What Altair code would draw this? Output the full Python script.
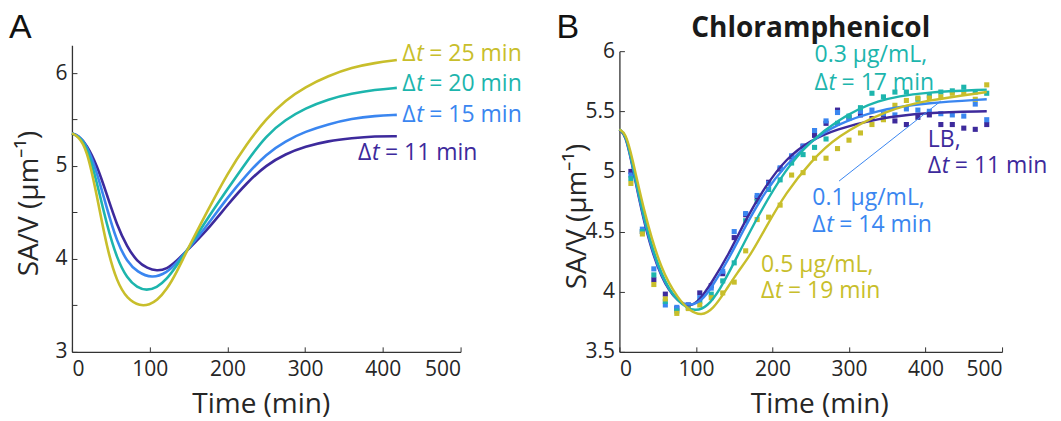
import altair as alt
import pandas as pd

FONT = "Open Sans"
TXT = "#262626"

# ---------------- Panel A : model curves ----------------
A_series = ["Δt = 11 min", "Δt = 15 min", "Δt = 20 min", "Δt = 25 min"]
A_t_11 = [0, 8, 19, 32, 45, 58, 71, 84, 97, 109, 122, 135, 148, 174, 200, 225, 250, 275, 300, 330, 360, 390, 418]
A_v_11 = [5.35, 5.33, 5.23, 5.01, 4.69, 4.36, 4.13, 3.97, 3.90, 3.87, 3.89, 3.98, 4.09, 4.31, 4.58, 4.82, 5.01, 5.13, 5.21, 5.27, 5.30, 5.32, 5.32]
A_t_15 = [0, 8, 19, 32, 45, 58, 71, 84, 103, 122, 135, 148, 174, 200, 225, 250, 275, 300, 330, 360, 390, 418]
A_v_15 = [5.35, 5.33, 5.23, 4.94, 4.54, 4.18, 3.97, 3.86, 3.79, 3.85, 3.96, 4.09, 4.36, 4.66, 4.91, 5.13, 5.27, 5.37, 5.45, 5.51, 5.54, 5.55]
A_t_20 = [0, 8, 19, 32, 45, 58, 71, 84, 96, 109, 122, 135, 148, 174, 200, 225, 250, 275, 300, 330, 360, 390, 418]
A_v_20 = [5.35, 5.32, 5.22, 4.83, 4.36, 4.00, 3.79, 3.69, 3.66, 3.69, 3.78, 3.93, 4.09, 4.43, 4.75, 5.05, 5.33, 5.50, 5.62, 5.72, 5.78, 5.82, 5.84]
A_t_25 = [0, 8, 19, 32, 45, 58, 71, 88, 100, 109, 122, 135, 148, 174, 200, 225, 250, 275, 300, 330, 360, 390, 418]
A_v_25 = [5.35, 5.32, 5.19, 4.69, 4.11, 3.75, 3.57, 3.49, 3.51, 3.55, 3.67, 3.86, 4.09, 4.51, 4.92, 5.24, 5.51, 5.71, 5.85, 5.97, 6.06, 6.11, 6.14]

# labels of panel A (data coordinates)
A_lab_x = [368, 425, 425, 425]
A_lab_y = [5.14, 5.55, 5.88, 6.21]
A_lab_rest = ["= 11 min", "= 15 min", "= 20 min", "= 25 min"]

# ---------------- Panel B : Chloramphenicol ----------------
B_series = ["LB", "0.1 μg/mL", "0.3 μg/mL", "0.5 μg/mL"]
B_fit_t_LB = [0, 8, 16, 33, 55, 77, 92, 105, 120, 142, 165, 190, 218, 250, 283, 336, 400, 480]
B_fit_v_LB = [5.35, 5.30, 5.08, 4.53, 4.09, 3.91, 3.87, 3.93, 4.07, 4.30, 4.60, 4.87, 5.11, 5.26, 5.35, 5.44, 5.49, 5.50]
B_fit_t_01 = [0, 8, 16, 33, 55, 77, 94, 108, 120, 142, 165, 190, 218, 250, 283, 336, 400, 480]
B_fit_v_01 = [5.35, 5.31, 5.09, 4.55, 4.10, 3.91, 3.88, 3.93, 4.03, 4.26, 4.55, 4.83, 5.06, 5.25, 5.39, 5.51, 5.57, 5.60]
B_fit_t_03 = [0, 8, 16, 33, 55, 77, 100, 115, 130, 153, 180, 218, 250, 283, 336, 400, 480]
B_fit_v_03 = [5.35, 5.31, 5.10, 4.57, 4.12, 3.90, 3.83, 3.88, 4.00, 4.28, 4.62, 5.03, 5.25, 5.42, 5.60, 5.66, 5.68]
B_fit_t_05 = [0, 8, 16, 33, 55, 77, 92, 107, 122, 140, 153, 172, 190, 218, 250, 283, 349, 400, 480]
B_fit_v_05 = [5.35, 5.32, 5.14, 4.64, 4.17, 3.94, 3.84, 3.80, 3.85, 4.02, 4.15, 4.31, 4.52, 4.83, 5.08, 5.29, 5.51, 5.59, 5.66]

B_pts_t = [15, 30, 45, 60, 75, 90, 105, 120, 135, 150, 165, 180, 195, 210, 225, 240,
           255, 270, 285, 300, 315, 330, 345, 360, 375, 390, 405, 420, 435, 450, 465, 480]
B_pts_LB = [5.00, 4.50, 4.10, 3.98, 3.86, 3.89, 3.99, 4.05, 4.15, 4.45, 4.64, 4.78, 4.91, 5.02, 5.12, 5.21,
            5.30, 5.40, 5.51, 5.45, 5.47, 5.44, 5.44, 5.42, 5.39, 5.45, 5.47, 5.39, 5.39, 5.36, 5.35, 5.39]
B_pts_01 = [4.97, 4.52, 4.19, 3.89, 3.87, 3.89, 3.95, 4.03, 4.17, 4.50, 4.65, 4.80, 4.90, 5.03, 5.13, 5.21,
            5.34, 5.42, 5.49, 5.44, 5.50, 5.51, 5.48, 5.47, 5.52, 5.51, 5.50, 5.48, 5.47, 5.46, 5.56, 5.43]
B_pts_03 = [4.94, 4.50, 4.14, 3.92, 3.84, 3.87, 3.92, 3.98, 4.09, 4.24, 4.59, 4.75, 4.85, 4.93, 5.07, 5.14,
            5.20, 5.27, 5.40, 5.46, 5.53, 5.65, 5.62, 5.66, 5.66, 5.60, 5.63, 5.66, 5.67, 5.70, 5.66, 5.65]
B_pts_05 = [4.90, 4.48, 4.06, 3.94, 3.82, 3.86, 3.89, 3.95, 3.99, 4.08, 4.34, 4.60, 4.62, 4.72, 4.97, 4.99,
            5.11, 5.11, 5.19, 5.26, 5.32, 5.39, 5.43, 5.55, 5.59, 5.61, 5.61, 5.62, 5.65, 5.65, 5.60, 5.72]

# labels of panel B
B_lab_series = ["0.3 μg/mL", "0.3 μg/mL", "LB", "LB", "0.1 μg/mL", "0.1 μg/mL", "0.5 μg/mL", "0.5 μg/mL"]
B_lab_x = [255, 255, 403, 403, 252, 252, 185, 185]
B_lab_y = [5.967, 5.734, 5.26, 5.045, 4.78, 4.555, 4.22, 4.007]
B_lab_text = ["0.3 μg/mL,", "= 17 min", "LB,", "= 11 min", "0.1 μg/mL,", "= 14 min", "0.5 μg/mL,", "= 19 min"]
B_lab_delta = [False, True, False, True, False, True, False, True]

# leader line for 0.1 µg/mL label
B_lead = {"x": [287], "y": [4.92], "x2": [420], "y2": [5.585]}

COLORS = ["#3d2a9c", "#3a86f0", "#1db5ad", "#c8be2b"]

A_ticks_x = [0, 100, 200, 300, 400, 500]
A_ticks_y = [3, 3.5, 4, 4.5, 5, 5.5, 6]
A_labels_y = [3, 4, 5, 6]
B_ticks_x = [0, 100, 200, 300, 400, 500]
B_ticks_y = [3.5, 4, 4.5, 5, 5.5, 6]

W_A, W_B, H = 389, 383, 307

# ---------------- build tables ----------------
rows = []
for s, ts, vs in zip(A_series, [A_t_11, A_t_15, A_t_20, A_t_25], [A_v_11, A_v_15, A_v_20, A_v_25]):
    for t, v in zip(ts, vs):
        rows.append({"t": t, "v": v, "s": s})
dfA = pd.DataFrame(rows)
dfA_lab = pd.DataFrame({"t": A_lab_x, "v": A_lab_y, "s": A_series, "rest": A_lab_rest})

rows = []
for s, ts, vs in zip(B_series, [B_fit_t_LB, B_fit_t_01, B_fit_t_03, B_fit_t_05],
                     [B_fit_v_LB, B_fit_v_01, B_fit_v_03, B_fit_v_05]):
    for t, v in zip(ts, vs):
        rows.append({"t": t, "v": v, "s": s})
dfB = pd.DataFrame(rows)
rows = []
for s, vs in zip(B_series, [B_pts_LB, B_pts_01, B_pts_03, B_pts_05]):
    for t, v in zip(B_pts_t, vs):
        rows.append({"t": t, "v": v, "s": s})
dfBp = pd.DataFrame(rows)
dfB_lab = pd.DataFrame({"t": B_lab_x, "v": B_lab_y, "s": B_lab_series, "txt": B_lab_text, "d": B_lab_delta})
dfB_lead = pd.DataFrame(B_lead)

colA = alt.Color("s:N", scale=alt.Scale(domain=A_series, range=COLORS), legend=None)
colB = alt.Color("s:N", scale=alt.Scale(domain=B_series, range=COLORS), legend=None)

scxA = alt.Scale(domain=[0, 500], nice=False)
scyA = alt.Scale(domain=[3, 6.3], nice=False, zero=False)
scxB = alt.Scale(domain=[0, 500], nice=False)
scyB = alt.Scale(domain=[3.5, 6], nice=False, zero=False, range=[H, 6])

axis_common = dict(grid=False, ticks=False, domainColor="#333333", domainWidth=1.3,
                   labelFont=FONT, labelFontSize=21, labelColor=TXT, titleFont=FONT,
                   titleFontSize=28, titleFontWeight="normal", titleColor=TXT)


def main_axes(ticks_x, labels_y, title_x, title_y):
    ax = alt.Axis(values=ticks_x, title="Time (min)", labelPadding=7, titleBaseline="middle",
                  titleX=title_x, titleY=53, **axis_common)
    ay = alt.Axis(values=labels_y, title="SA/V (μm⁻¹)", labelPadding=5, labelExpr="datum.value",
                  titleAngle=-90, titleBaseline="middle", titleX=-42, titleY=title_y, **axis_common)
    return ax, ay


def tick_axes(ticks_x, ticks_y):
    tx = alt.Axis(values=ticks_x, orient="bottom", offset=-5, tickSize=5, ticks=True, labels=False,
                  domain=False, grid=False, title=None, tickColor="#333333", tickWidth=1)
    ty = alt.Axis(values=ticks_y, orient="left", offset=-5, tickSize=5, ticks=True, labels=False,
                  domain=False, grid=False, title=None, tickColor="#333333", tickWidth=1)
    return tx, ty


def delta_layers(df, scx, scy, col, txtfield, size):
    base = alt.Chart(df)
    enc = dict(x=alt.X("t:Q", scale=scx, axis=None), y=alt.Y("v:Q", scale=scy, axis=None), color=col)
    l1 = base.mark_text(align="left", baseline="middle", font=FONT, fontSize=size, dx=0).encode(
        text=alt.value("Δ"), **enc)
    l2 = base.mark_text(align="left", baseline="middle", font=FONT, fontSize=size, fontStyle="italic",
                        dx=14).encode(text=alt.value("t"), **enc)
    l3 = base.mark_text(align="left", baseline="middle", font=FONT, fontSize=size, dx=27).encode(
        text=alt.Text(txtfield), **enc)
    return [l1, l2, l3]


LETTER_FONT = "Liberation Sans"

# ---------------- Panel A ----------------
axA, ayA = main_axes(A_ticks_x, A_labels_y, 189, 158)
txA, tyA = tick_axes(A_ticks_x, A_ticks_y)
linesA = alt.Chart(dfA).mark_line(strokeWidth=2.6, interpolate="basis").encode(
    x=alt.X("t:Q", scale=scxA, axis=axA), y=alt.Y("v:Q", scale=scyA, axis=ayA), color=colA,
    order="t:Q")
ticksA = alt.Chart(dfA).mark_point(opacity=0).encode(
    x=alt.X("t:Q", scale=scxA, axis=txA), y=alt.Y("v:Q", scale=scyA, axis=tyA))
labA = delta_layers(dfA_lab, scxA, scyA, colA, "rest:N", 23)
letterA = alt.Chart(pd.DataFrame({"s": ["A"]})).mark_text(
    align="left", baseline="alphabetic", font=LETTER_FONT, fontSize=34, color="#111111").encode(
    text="s:N", x=alt.value(-63), y=alt.value(-7))
panelA = alt.layer(linesA, ticksA, *labA, letterA).resolve_axis(
    x="independent", y="independent").properties(width=W_A, height=H)

# ---------------- Panel B ----------------
axB, ayB = main_axes(B_ticks_x, B_ticks_y, 200, 171)
txB, tyB = tick_axes(B_ticks_x, B_ticks_y)
ptsB = alt.Chart(dfBp).mark_square(size=26, opacity=1).encode(
    x=alt.X("t:Q", scale=scxB, axis=axB), y=alt.Y("v:Q", scale=scyB, axis=ayB), color=colB)
linesB = alt.Chart(dfB).mark_line(strokeWidth=2.4, interpolate="basis").encode(
    x=alt.X("t:Q", scale=scxB, axis=None), y=alt.Y("v:Q", scale=scyB, axis=None), color=colB,
    order="t:Q")
ticksB = alt.Chart(dfB).mark_point(opacity=0).encode(
    x=alt.X("t:Q", scale=scxB, axis=txB), y=alt.Y("v:Q", scale=scyB, axis=tyB))
leadB = alt.Chart(dfB_lead).mark_rule(color=COLORS[1], strokeWidth=1).encode(
    x=alt.X("x:Q", scale=scxB, axis=None), y=alt.Y("y:Q", scale=scyB, axis=None),
    x2="x2:Q", y2="y2:Q")
plainB = alt.Chart(dfB_lab).transform_filter("!datum.d").mark_text(
    align="left", baseline="middle", font=FONT, fontSize=23).encode(
    x=alt.X("t:Q", scale=scxB, axis=None), y=alt.Y("v:Q", scale=scyB, axis=None), color=colB,
    text="txt:N")
labB = delta_layers(dfB_lab[dfB_lab["d"]], scxB, scyB, colB, "txt:N", 23)
letterB = alt.Chart(pd.DataFrame({"s": ["B"]})).mark_text(
    align="left", baseline="alphabetic", font=LETTER_FONT, fontSize=34, color="#111111").encode(
    text="s:N", x=alt.value(-63), y=alt.value(-7))
titleB = alt.Chart(pd.DataFrame({"s": ["Chloramphenicol"]})).mark_text(
    align="center", baseline="alphabetic", font=FONT, fontSize=28, fontWeight="bold",
    color="#1a1a1a").encode(text="s:N", x=alt.value(W_B / 2), y=alt.value(-8))
panelB = alt.layer(ptsB, linesB, ticksB, leadB, plainB, *labB, letterB, titleB).resolve_axis(
    x="independent", y="independent").properties(width=W_B, height=H)

chart = alt.hconcat(panelA, panelB, spacing=159, bounds="flush").configure_view(
    stroke=None).properties(padding={"left": 1, "top": 3, "right": 5, "bottom": 6})

chart.save("out.html", embed_options={"renderer": "svg", "actions": False})
